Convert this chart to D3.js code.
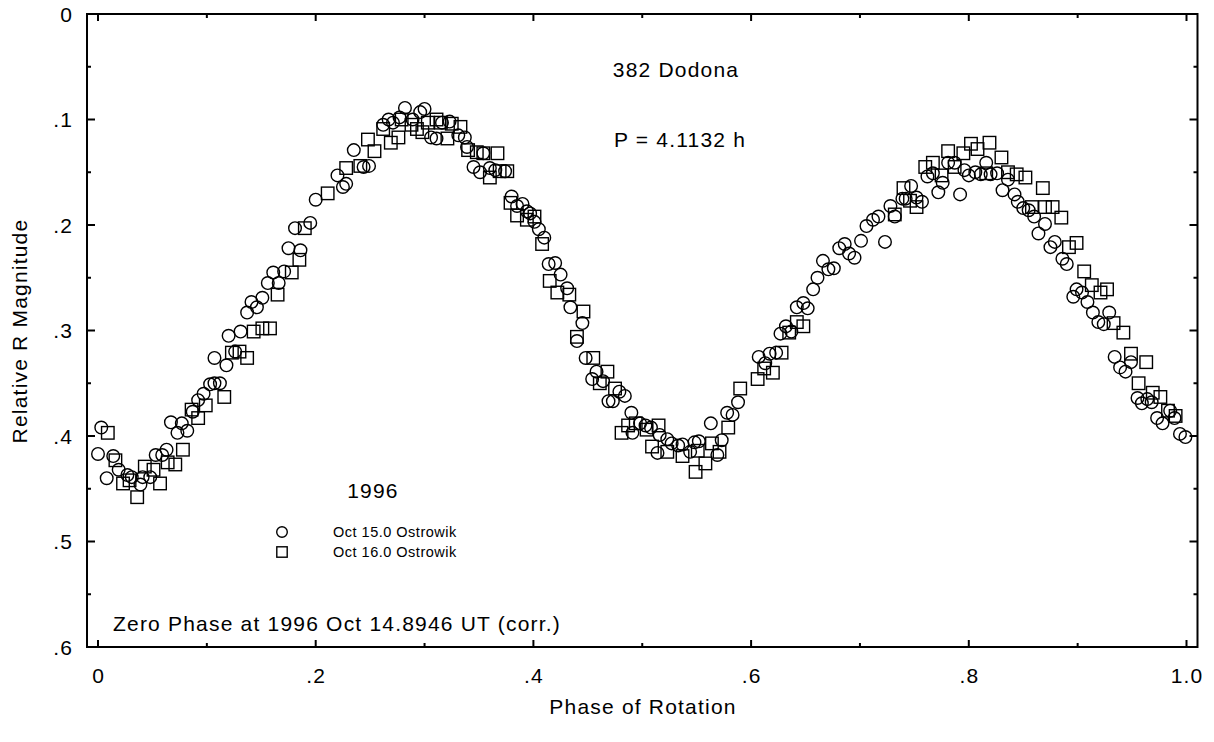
<!DOCTYPE html>
<html><head><meta charset="utf-8">
<script src="https://cdn.jsdelivr.net/npm/d3@7/dist/d3.min.js"></script>
<style>
html,body{margin:0;padding:0;background:#fff;}
svg text{font-family:"Liberation Sans",Arial,Helvetica,sans-serif;fill:#000;}
</style></head>
<body>
<svg id="chart" width="1214" height="742"></svg>
<script>
// Oct 15.0 Ostrowik (circles): [phase, relative R magnitude]
const oct15Phase = [0.003,0.000,0.014,0.008,0.019,0.027,0.031,0.039,0.041,0.048,0.053,0.059,0.063,0.067,0.073,0.077,0.082,0.087,0.092,0.097,0.103,0.107,0.112,0.118,0.107,0.120,0.126,0.131,0.137,0.141,0.146,0.151,0.156,0.166,0.161,0.171,0.175,0.186,0.181,0.195,0.200,
0.220,0.225,0.228,0.244,0.249,0.235,0.262,0.267,0.271,0.277,0.282,0.289,0.296,0.300,0.306,0.311,0.316,0.323,0.331,0.337,0.339,0.345,0.351,0.360,0.365,0.354,0.374,0.380,0.385,0.390,0.394,0.397,0.401,0.405,0.410,0.414,0.420,0.425,0.431,0.434,0.445,0.440,0.448,0.458,0.454,0.464,0.479,0.484,0.469,0.473,0.490,0.491,0.498,0.503,0.508,0.516,0.514,0.523,0.527,0.533,0.537,0.544,0.548,0.552,0.569,0.573,0.563,0.578,0.583,0.588,
0.607,0.613,0.617,0.623,0.627,0.632,0.637,0.642,0.648,0.652,0.657,0.661,0.666,0.671,0.676,0.681,0.686,0.690,0.695,0.701,0.706,0.712,0.717,0.723,0.728,0.732,0.739,0.742,0.747,0.752,0.757,0.762,0.767,0.772,0.776,0.781,0.787,0.792,0.796,0.800,0.806,0.811,0.816,0.820,0.826,0.831,0.836,0.842,0.845,0.850,0.855,0.860,0.870,0.864,0.875,0.879,0.886,0.890,0.899,0.896,0.904,0.909,0.914,0.919,0.924,0.929,0.934,0.949,0.939,0.944,0.955,0.959,0.964,0.968,0.973,0.978,0.985,0.989,0.994,0.999];
const oct15Mag = [0.392,0.417,0.419,0.440,0.432,0.437,0.439,0.446,0.439,0.439,0.418,0.418,0.413,0.387,0.397,0.388,0.395,0.377,0.366,0.360,0.351,0.350,0.350,0.333,0.326,0.305,0.320,0.301,0.283,0.273,0.278,0.269,0.255,0.255,0.245,0.244,0.222,0.224,0.203,0.198,0.176,
0.153,0.164,0.161,0.145,0.144,0.129,0.105,0.100,0.103,0.098,0.089,0.100,0.093,0.090,0.117,0.118,0.103,0.102,0.115,0.117,0.126,0.145,0.150,0.146,0.148,0.132,0.149,0.173,0.182,0.180,0.187,0.189,0.197,0.204,0.212,0.237,0.236,0.247,0.260,0.278,0.293,0.310,0.326,0.339,0.346,0.348,0.358,0.362,0.367,0.367,0.378,0.397,0.388,0.390,0.392,0.399,0.416,0.403,0.407,0.409,0.408,0.415,0.406,0.405,0.418,0.404,0.388,0.378,0.380,0.368,
0.325,0.331,0.322,0.321,0.303,0.296,0.301,0.278,0.274,0.279,0.261,0.250,0.234,0.242,0.241,0.222,0.218,0.227,0.231,0.215,0.201,0.195,0.192,0.216,0.182,0.192,0.175,0.175,0.163,0.174,0.178,0.154,0.151,0.169,0.160,0.141,0.141,0.171,0.148,0.153,0.150,0.152,0.141,0.152,0.151,0.167,0.157,0.171,0.178,0.184,0.186,0.192,0.199,0.208,0.221,0.216,0.232,0.237,0.261,0.268,0.264,0.273,0.283,0.292,0.294,0.283,0.325,0.330,0.335,0.339,0.364,0.369,0.365,0.368,0.383,0.388,0.376,0.383,0.398,0.401];

// Oct 16.0 Ostrowik (squares)
const oct16Phase = [0.009,0.016,0.023,0.029,0.036,0.043,0.051,0.057,0.064,0.071,0.078,0.086,0.092,0.099,0.116,0.123,0.130,0.137,0.143,0.151,0.158,0.165,0.178,0.185,0.190,
0.211,0.228,0.241,0.248,0.254,0.269,0.276,0.262,0.279,0.288,0.293,0.303,0.298,0.311,0.315,0.325,0.333,0.321,0.340,0.348,0.354,0.360,0.367,0.369,0.376,0.379,0.385,0.394,0.401,0.408,0.415,0.422,0.433,0.446,0.440,0.455,0.468,0.461,0.475,0.487,0.481,0.494,0.504,0.515,0.509,0.523,0.537,0.551,0.549,0.558,0.564,0.571,0.579,0.590,
0.606,0.612,0.620,0.628,0.635,0.642,0.648,
0.732,0.740,0.746,0.752,0.760,0.767,0.775,0.781,0.787,0.795,0.802,0.808,0.819,0.816,0.830,0.836,0.844,0.852,0.858,0.868,0.870,0.877,0.885,0.892,0.899,0.906,0.913,0.921,0.927,0.933,0.942,0.949,0.963,0.956,0.969,0.976,0.983,0.990];
const oct16Mag = [0.397,0.423,0.445,0.442,0.458,0.429,0.432,0.445,0.425,0.427,0.413,0.375,0.383,0.371,0.363,0.321,0.320,0.326,0.301,0.298,0.298,0.266,0.245,0.233,0.203,
0.170,0.146,0.144,0.119,0.130,0.122,0.117,0.109,0.100,0.105,0.109,0.103,0.112,0.100,0.103,0.104,0.107,0.118,0.129,0.131,0.132,0.155,0.132,0.149,0.149,0.179,0.191,0.195,0.192,0.218,0.253,0.264,0.266,0.282,0.306,0.326,0.339,0.350,0.355,0.390,0.397,0.388,0.394,0.390,0.410,0.415,0.419,0.414,0.434,0.426,0.407,0.415,0.392,0.355,
0.346,0.336,0.340,0.321,0.302,0.292,0.296,
0.190,0.165,0.177,0.183,0.145,0.141,0.153,0.130,0.145,0.132,0.123,0.128,0.122,0.151,0.136,0.150,0.152,0.155,0.183,0.165,0.183,0.183,0.193,0.221,0.217,0.244,0.257,0.264,0.261,0.293,0.302,0.322,0.330,0.350,0.359,0.363,0.376,0.381];

const xTicksMajor = [0, 0.2, 0.4, 0.6, 0.8, 1.0];
const xTickLabels = ["0", ".2", ".4", ".6", ".8", "1.0"];
const xTicksMinor = [0.1, 0.3, 0.5, 0.7, 0.9];
const yTicksMajor = [0, 0.1, 0.2, 0.3, 0.4, 0.5, 0.6];
const yTickLabels = ["0", ".1", ".2", ".3", ".4", ".5", ".6"];
const yTicksMinor = [0.05, 0.15, 0.25, 0.35, 0.45, 0.55];

const FS = 21, LS = 1.2;
const svg = d3.select("#chart");
svg.append("rect").attr("width",1214).attr("height",742).attr("fill","#fff");

const x = d3.scaleLinear().domain([0, 1]).range([98, 1186.5]);
const y = d3.scaleLinear().domain([0, 0.6]).range([14, 647]);
const xL = x(-0.0101), xR = x(1.0101);
const yT = y(0), yB = y(0.6);

// markers
const g = svg.append("g");
const c15 = oct15Phase.map((p,i)=>[p, oct15Mag[i]]);
const c16 = oct16Phase.map((p,i)=>[p, oct16Mag[i]]);
const sq = 12.5;
g.selectAll("rect.s").data(c16).enter().append("rect")
  .attr("x", d=>x(d[0])-sq/2).attr("y", d=>y(d[1])-sq/2)
  .attr("width", sq).attr("height", sq)
  .attr("fill","none").attr("stroke","#000").attr("stroke-width",1.4);
g.selectAll("circle.c").data(c15).enter().append("circle")
  .attr("cx", d=>x(d[0])).attr("cy", d=>y(d[1])).attr("r", 6.3)
  .attr("fill","none").attr("stroke","#000").attr("stroke-width",1.4);

// frame
const ax = svg.append("g").attr("stroke","#000").attr("stroke-width",2).attr("fill","none");
ax.append("rect").attr("x",xL).attr("y",yT).attr("width",xR-xL).attr("height",yB-yT);
const tick = (x1,y1,x2,y2)=>ax.append("line").attr("x1",x1).attr("y1",y1).attr("x2",x2).attr("y2",y2);
xTicksMajor.forEach(v=>{ tick(x(v),yB,x(v),yB-7); tick(x(v),yT,x(v),yT+7); });
xTicksMinor.forEach(v=>{ tick(x(v),yB,x(v),yB-4); tick(x(v),yT,x(v),yT+4); });
yTicksMajor.forEach(v=>{ tick(xL,y(v),xL+8,y(v)); tick(xR,y(v),xR-8,y(v)); });
yTicksMinor.forEach(v=>{ tick(xL,y(v),xL+4,y(v)); tick(xR,y(v),xR-4,y(v)); });

// tick labels
svg.append("g").selectAll("text").data(xTicksMajor).enter().append("text")
  .attr("x", d=>x(d)+LS/2).attr("y", 683).attr("text-anchor","middle")
  .attr("font-size",FS).attr("letter-spacing",LS).text((d,i)=>xTickLabels[i]);
svg.append("g").selectAll("text").data(yTicksMajor).enter().append("text")
  .attr("x", 72+LS).attr("y", d=>y(d)+7.5).attr("text-anchor","end")
  .attr("font-size",FS).attr("letter-spacing",LS).text((d,i)=>yTickLabels[i]);

// titles
const big = (sel)=>sel.attr("font-size",FS).attr("letter-spacing",LS);
big(svg.append("text").attr("x",643).attr("y",714).attr("text-anchor","middle")).text("Phase of Rotation");
big(svg.append("text").attr("transform","translate(27,331) rotate(-90)").attr("text-anchor","middle")).text("Relative R Magnitude");

big(svg.append("text").attr("x",676).attr("y",77).attr("text-anchor","middle")).text("382 Dodona");
big(svg.append("text").attr("x",680).attr("y",147).attr("text-anchor","middle")).text("P = 4.1132 h");
big(svg.append("text").attr("x",373).attr("y",498).attr("text-anchor","middle")).text("1996");
big(svg.append("text").attr("x",113).attr("y",631)).text("Zero Phase at 1996 Oct 14.8946 UT (corr.)");

// legend
svg.append("circle").attr("cx",282).attr("cy",532).attr("r",5.3).attr("fill","none").attr("stroke","#000").attr("stroke-width",1.4);
svg.append("rect").attr("x",282-5.2).attr("y",552-5.2).attr("width",10.4).attr("height",10.4).attr("fill","none").attr("stroke","#000").attr("stroke-width",1.4);
svg.append("text").attr("x",333).attr("y",537).attr("font-size",14.5).attr("letter-spacing",0.5).text("Oct 15.0 Ostrowik");
svg.append("text").attr("x",333).attr("y",557).attr("font-size",14.5).attr("letter-spacing",0.5).text("Oct 16.0 Ostrowik");
</script>
</body></html>
